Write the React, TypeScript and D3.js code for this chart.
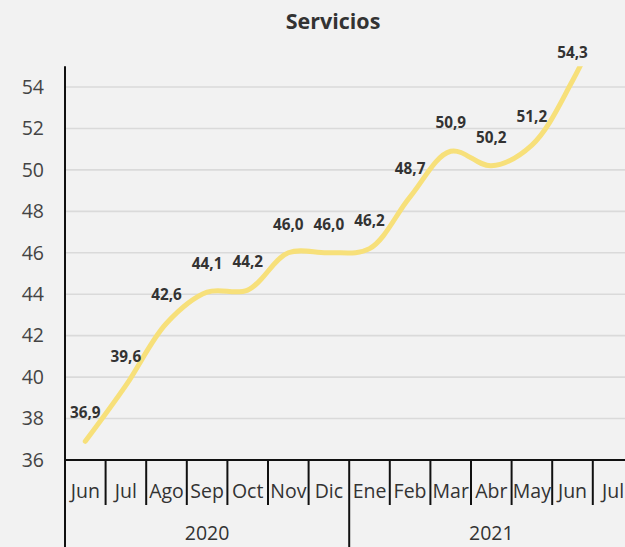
import React from "react"
import * as d3 from "d3"

// months of the hierarchical axis, grouped by year
const months = ["Jun", "Jul", "Ago", "Sep", "Oct", "Nov", "Dic", "Ene", "Feb", "Mar", "Abr", "May", "Jun", "Jul"]
const years = ["2020", "2020", "2020", "2020", "2020", "2020", "2020", "2021", "2021", "2021", "2021", "2021", "2021", "2021"]
const yearNames = ["2020", "2021"]
// index values; the last one runs above the plot and is clipped
const values = [36.9, 39.6, 42.6, 44.1, 44.2, 46.0, 46.0, 46.2, 48.7, 50.9, 50.2, 51.2, 54.3, 58.5]
const yTicks = [36, 38, 40, 42, 44, 46, 48, 50, 52, 54]

const W = 625
const H = 547
const font = "'Open Sans', 'Noto Sans', sans-serif"

function fmt(v: number) {
  return v.toFixed(1).replace(".", ",")
}

export default function App() {
  const left = 65
  const bandW = 40.6
  const keys = months.map((m, i) => i)
  const x = d3.scaleBand<number>().domain(keys).range([left, left + bandW * months.length]).paddingInner(0).paddingOuter(0)
  const y = d3.scaleLinear().domain([36, 55]).range([460, 66.3])
  const axisY = y(36)

  const line = d3
    .line<number>()
    .x((d, i) => x(i)! + x.bandwidth() / 2)
    .y(d => y(d))
    .curve(d3.curveCatmullRom.alpha(0.5))

  // year group extents
  const groups = yearNames.map(name => {
    const idx = keys.filter(i => years[i] === name)
    return { name, x0: x(idx[0])!, x1: x(idx[idx.length - 1])! + x.bandwidth() }
  })

  return (
    <div style={{ position: "fixed", left: 0, top: 0, width: W, height: H, background: "#f2f2f2" }}>
      <svg width={W} height={H} style={{ display: "block" }}>
        <defs>
          <clipPath id="plot">
            <rect x={left} y={y(55)} width={W - left} height={axisY - y(55)} />
          </clipPath>
        </defs>
        <rect x={0} y={0} width={W} height={H} fill="#f2f2f2" />
        <text x={333} y={29} textAnchor="middle" fontFamily={font} fontWeight={700} fontSize={21.5} fill="#333">
          Servicios
        </text>

        {yTicks.map(t => (
          <g key={t}>
            {t > 36 && <line x1={left} x2={W} y1={y(t)} y2={y(t)} stroke="#dadada" strokeWidth={1.6} />}
            <text x={44} y={y(t)} dy="0.35em" textAnchor="end" fontFamily={font} fontSize={19.5} fill="#444">
              {t}
            </text>
          </g>
        ))}

        <path d={line(values) || ""} fill="none" stroke="#f7e07a" strokeWidth={5} strokeLinecap="round" clipPath="url(#plot)" />

        {values.map((v, i) =>
          v <= 55 ? (
            <text
              key={i}
              x={x(i)! + x.bandwidth() / 2}
              y={y(v) - 23}
              textAnchor="middle"
              fontFamily={font}
              fontWeight={700}
              fontSize={15.3}
              fill="#333"
            >
              {fmt(v)}
            </text>
          ) : null
        )}

        {/* axes */}
        <line x1={left} x2={left} y1={y(55)} y2={H} stroke="#111" strokeWidth={2} />
        <line x1={left} x2={W} y1={axisY} y2={axisY} stroke="#111" strokeWidth={2} />
        {keys.map(i => (
          <g key={i}>
            {i > 0 && (
              <line
                x1={x(i)!}
                x2={x(i)!}
                y1={axisY}
                y2={years[i] !== years[i - 1] ? H : 505}
                stroke="#111"
                strokeWidth={2}
              />
            )}
            <text
              x={x(i)! + x.bandwidth() / 2}
              y={491}
              dy="0.35em"
              textAnchor="middle"
              fontFamily={font}
              fontSize={19.5}
              fill="#333"
            >
              {months[i]}
            </text>
          </g>
        ))}
        {groups.map(g => (
          <text
            key={g.name}
            x={(g.x0 + g.x1) / 2}
            y={533}
            dy="0.35em"
            textAnchor="middle"
            fontFamily={font}
            fontSize={19.5}
            fill="#333"
          >
            {g.name}
          </text>
        ))}
      </svg>
    </div>
  )
}
